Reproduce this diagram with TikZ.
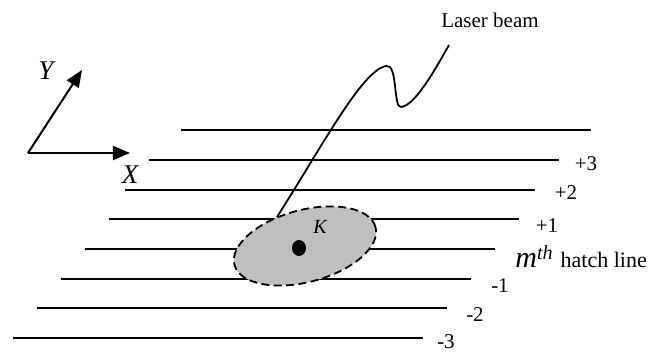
\documentclass[tikz,border=0pt]{standalone}
\usepackage{fontspec}
\setmainfont{Liberation Serif}
\usetikzlibrary{arrows.meta, shapes.geometric}
\tikzset{
  hatch/.style={line width=1pt},
  axis/.style={line width=1pt, -{Triangle[length=8.5pt,width=7pt]}},
  spot/.style={ellipse, draw, dash pattern=on 4pt off 2.2pt, line width=0.9pt,
               fill=black!25, minimum width=73pt, minimum height=36pt,
               inner sep=0pt, rotate=15},
  dot/.style={ellipse, fill=black, minimum width=7pt, minimum height=8pt,
              inner sep=0pt},
  num/.style={font=\fontsize{10.5}{12}\selectfont, inner sep=0pt},
  axlabel/.style={font=\fontsize{13.5}{15}\selectfont\itshape, inner sep=0pt},
  beam/.style={line width=0.9pt}
}
\begin{document}
\begin{tikzpicture}[x=0.5pt, y=-0.5pt]
  \useasboundingbox (0,0) rectangle (650,356);
  % hatch lines
  \foreach \y/\xa/\xb [count=\i] in {130/181/591, 160/149/559, 190/125/535,
      219/109/519, 249/85/495, 279/61/471, 308/37/447, 338/13/423}{
    \coordinate (h\i a) at (\xa,\y);
    \coordinate (h\i b) at (\xb,\y);
    \draw[hatch] (h\i a) -- (h\i b);
  }
  \node[num] (p3) at (586,164) {+3};
  \node[num] (p2) at (566,193) {+2};
  \node[num] (p1) at (547,226) {+1};
  \node[num] (m1) at (500,286) {-1};
  \node[num] (m2) at (475,315) {-2};
  \node[num] (m3) at (446,342) {-3};
  \node[anchor=base west, inner sep=0pt] (mth) at (515,268)
    {{\fontsize{15}{15}\selectfont\itshape m}\raisebox{4pt}{\fontsize{10}{10}\selectfont\itshape th}\hspace{4pt}{\fontsize{11}{12}\selectfont hatch line}};
  % laser spot
  \node[spot] (spot) at (305,246) {};
  \node[dot] (k) at (299,248) {};
  \node[font=\fontsize{10}{12}\selectfont\itshape, inner sep=0pt] (klabel) at (320,227) {K};
  % beam
  \coordinate (beam0) at (277,217);
  \coordinate (beam1) at (386,66);
  \coordinate (beam2) at (401,107);
  \coordinate (beam3) at (449,45);
  \draw[beam] (beam0) .. controls (320,150) and (362,70) .. (beam1)
    .. controls (398,63) and (393,108) .. (beam2)
    .. controls (415,106) and (436,68) .. (beam3);
  \node[font=\fontsize{10.5}{12}\selectfont, inner sep=0pt] (beamlabel) at (490,20) {Laser beam};
  % axes
  \coordinate (o) at (28,153);
  \coordinate (xtip) at (130,153);
  \coordinate (ytip) at (82,70);
  \draw[axis] (o) -- (xtip);
  \draw[axis] (o) -- (ytip);
  \node[axlabel] (xl) at (130,175) {X};
  \node[axlabel] (yl) at (46,71) {Y};
\end{tikzpicture}
\end{document}
